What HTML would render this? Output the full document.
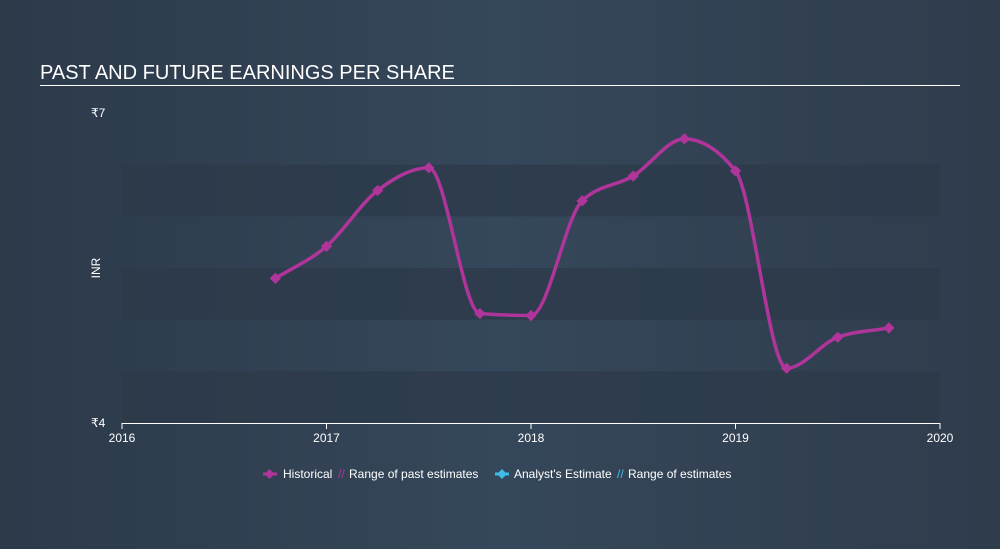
<!DOCTYPE html>
<html><head><meta charset="utf-8"><style>
body{margin:0;width:1000px;height:544px;overflow:hidden;background:linear-gradient(90deg,#2c3a4a,#35475a 50%,#2f3c4c);font-family:"Liberation Sans",sans-serif;}
</style></head><body>
<svg id="c" width="1000" height="544">
<text x="40" y="79" fill="#fff" font-size="20">PAST AND FUTURE EARNINGS PER SHARE</text>
<line x1="40" y1="85.5" x2="960" y2="85.5" stroke="#fff" stroke-width="1"/>
<g id="bands"></g><g id="axes"></g><g id="series"></g>
<g font-size="12" fill="#fff">
<line x1="263" y1="474" x2="277" y2="474" stroke="#b0359a" stroke-width="3"/>
<rect x="266" y="470.5" width="7" height="7" fill="#b0359a" transform="rotate(45 269.5 474)"/>
<text x="283" y="478">Historical</text>
<text x="338" y="478" fill="#b0359a">//</text>
<text x="349" y="478">Range of past estimates</text>
<line x1="495" y1="474" x2="509" y2="474" stroke="#3fbde6" stroke-width="3"/>
<rect x="498.5" y="470.5" width="7" height="7" fill="#3fbde6" transform="rotate(45 502 474)"/>
<text x="514" y="478">Analyst's Estimate</text>
<text x="617" y="478" fill="#3fbde6">//</text>
<text x="628" y="478">Range of estimates</text>
</g>
</svg>
<script>
const years=[2016.75,2017,2017.25,2017.5,2017.75,2018,2018.25,2018.5,2018.75,2019,2019.25,2019.5,2019.75];
const eps=[5.40,5.71,6.25,6.47,5.06,5.04,6.15,6.39,6.75,6.44,4.53,4.83,4.92];
const xTicks=[2016,2017,2018,2019,2020];
const yTickLabels=["₹4","₹7"];
const yTickVals=[4,7];
const bandRanges=[[4,4.5],[5,5.5],[6,6.5]];
const NS="http://www.w3.org/2000/svg";
const X=v=>122+(v-2016)*204.5, Y=v=>423-(v-4)*103.33;
function mk(tag,attrs,parent){const e=document.createElementNS(NS,tag);for(const k in attrs)e.setAttribute(k,attrs[k]);document.getElementById(parent).appendChild(e);return e;}
bandRanges.forEach(b=>{const r=mk('rect',{x:122,y:Y(b[1]),width:818,height:Y(b[0])-Y(b[1]),fill:'#2c3949',opacity:0.75},'bands');

});
const ax=mk('line',{x1:122,y1:423.5,x2:940,y2:423.5,stroke:'#fff','stroke-width':1},'axes');


xTicks.forEach(t=>{const l=mk('line',{x1:X(t),y1:423,x2:X(t),y2:429,stroke:'#fff'},'axes');


const tx=mk('text',{x:X(t),y:442,fill:'#fff','font-size':12,'text-anchor':'middle'},'axes');tx.textContent=t;

});
yTickVals.forEach((v,i)=>{const tx=mk('text',{x:91,y:Y(v)+4,fill:'#fff','font-size':12},'axes');tx.textContent=yTickLabels[i];

});
const yt=mk('text',{x:100,y:268,fill:'#fff','font-size':12,'text-anchor':'middle',transform:'rotate(-90 100 268)'},'axes');yt.textContent='INR';


const P=years.map((y,i)=>[X(y),Y(eps[i])]);
// monotone cubic (Fritsch-Carlson)
const n=P.length,s=[],m=[];
for(let i=0;i<n-1;i++)s.push((P[i+1][1]-P[i][1])/(P[i+1][0]-P[i][0]));
for(let i=0;i<n;i++){
 if(i===0)m.push(s[0]);else if(i===n-1)m.push(s[n-2]);
 else if(s[i-1]*s[i]<=0)m.push(0);
 else{const h0=P[i][0]-P[i-1][0],h1=P[i+1][0]-P[i][0];const p=(s[i-1]*h1+s[i]*h0)/(h0+h1);
  m.push((Math.sign(s[i-1])+Math.sign(s[i]))*Math.min(Math.abs(s[i-1]),Math.abs(s[i]),0.5*Math.abs(p)));}
}
let d=`M${P[0][0]},${P[0][1]}`;
for(let i=0;i<n-1;i++){const h=(P[i+1][0]-P[i][0])/3;
d+=` C${P[i][0]+h},${P[i][1]+m[i]*h} ${P[i+1][0]-h},${P[i+1][1]-m[i+1]*h} ${P[i+1][0]},${P[i+1][1]}`;}
const ln=mk('path',{d:d,fill:'none',stroke:'#b0359a','stroke-width':3.5},'series');


P.forEach(p=>{const m2=mk('rect',{x:p[0]-4,y:p[1]-4,width:8,height:8,fill:'#b0359a',transform:`rotate(45 ${p[0]} ${p[1]})`},'series');

});
</script>
</body></html>
